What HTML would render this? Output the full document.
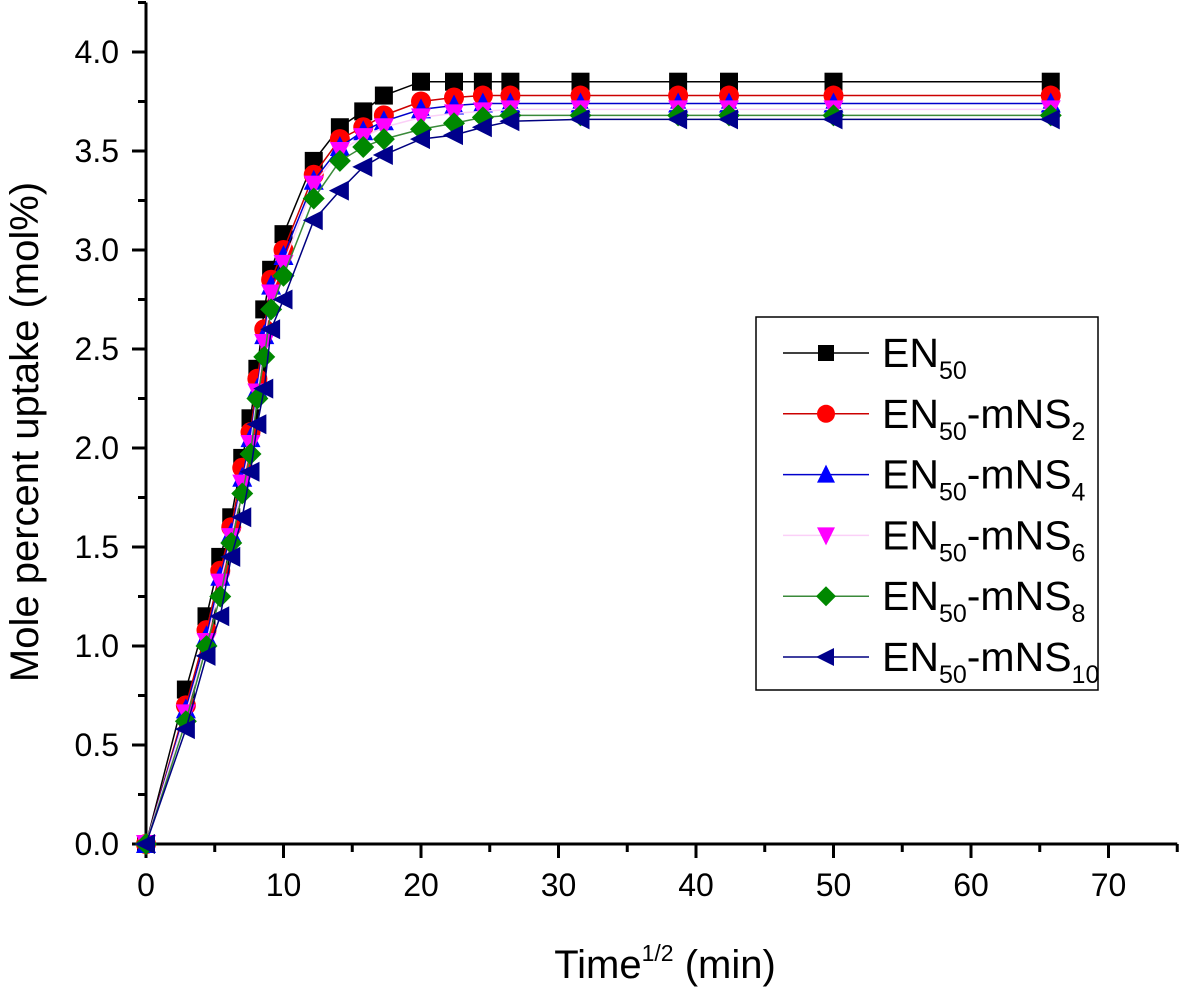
<!DOCTYPE html>
<html><head><meta charset="utf-8"><style>
html,body{margin:0;padding:0;background:#fff;}
svg{display:block;font-family:"Liberation Sans",Arial,sans-serif;}
</style></head><body>
<svg id="chart" width="1181" height="990" viewBox="0 0 1181 990" xmlns="http://www.w3.org/2000/svg">
<g id="axes"></g>
<g id="series"></g>
<g id="legend"></g>
<text transform="translate(38,432) rotate(-90)" text-anchor="middle" font-size="40">Mole percent uptake (mol%)</text>
<text x="665" y="978" text-anchor="middle" font-size="40">Time<tspan font-size="23" dy="-17">1/2</tspan><tspan dy="17"> (min)</tspan></text>
</svg>
<script>
const times=[0,2.9,4.4,5.4,6.2,7.0,7.6,8.1,8.6,9.1,10,12.2,14.1,15.8,17.3,20,22.4,24.5,26.5,31.6,38.7,42.4,50,65.8];
const en50=[0,0.78,1.15,1.45,1.65,1.95,2.15,2.4,2.7,2.9,3.08,3.45,3.62,3.70,3.78,3.85,3.85,3.85,3.85,3.85,3.85,3.85,3.85,3.85];
const mns2=[0,0.70,1.08,1.38,1.60,1.90,2.08,2.35,2.6,2.85,3.0,3.38,3.56,3.62,3.68,3.75,3.77,3.78,3.78,3.78,3.78,3.78,3.78,3.78];
const mns4=[0,0.68,1.05,1.35,1.57,1.85,2.05,2.3,2.57,2.82,2.97,3.35,3.52,3.60,3.65,3.71,3.73,3.74,3.74,3.74,3.74,3.74,3.74,3.74];
const mns6=[0,0.66,1.02,1.32,1.55,1.82,2.02,2.28,2.53,2.78,2.93,3.33,3.50,3.57,3.62,3.67,3.69,3.70,3.71,3.71,3.71,3.71,3.71,3.71];
const mns8=[0,0.62,1.0,1.25,1.52,1.77,1.97,2.25,2.46,2.7,2.87,3.26,3.45,3.52,3.56,3.61,3.64,3.67,3.68,3.68,3.68,3.68,3.68,3.68];
const mns10=[0,0.58,0.95,1.15,1.45,1.65,1.88,2.12,2.3,2.6,2.75,3.15,3.30,3.42,3.48,3.56,3.58,3.62,3.65,3.66,3.66,3.66,3.66,3.66];
const seriesNames=["EN50","EN50-mNS2","EN50-mNS4","EN50-mNS6","EN50-mNS8","EN50-mNS10"];
const seriesSubs=["","2","4","6","8","10"];
const xTicks=[0,10,20,30,40,50,60,70];
const yTicks=[0,0.5,1.0,1.5,2.0,2.5,3.0,3.5,4.0];

const NS="http://www.w3.org/2000/svg";
const X0=146,XS=13.75,Y0=844,YS=198;
const xs=v=>X0+v*XS, ys=v=>Y0-v*YS;
function mk(tag,attrs,parent){const e=document.createElementNS(NS,tag);for(const k in attrs)e.setAttribute(k,attrs[k]);parent.appendChild(e);return e;}
const axes=document.getElementById('axes');
let l=mk('line',{x1:X0,y1:ys(4.25),x2:X0,y2:Y0,stroke:'#000','stroke-width':3},axes);


l=mk('line',{x1:X0,y1:Y0,x2:xs(75),y2:Y0,stroke:'#000','stroke-width':3},axes);


for(let v=0;v<=4.25;v+=0.25){const maj=Math.abs(v*2-Math.round(v*2))<1e-6;
 const t=mk('line',{x1:X0-(maj?14:8),y1:ys(v),x2:X0,y2:ys(v),stroke:'#000','stroke-width':3},axes);
 
 }
yTicks.forEach(v=>{const t=mk('text',{x:X0-27,y:ys(v)+11,'text-anchor':'end','font-size':32},axes);t.textContent=v.toFixed(1);
 
 });
for(let v=0;v<=75;v+=5){const maj=v%10===0;
 const t=mk('line',{x1:xs(v),y1:Y0,x2:xs(v),y2:Y0+(maj?14:8),stroke:'#000','stroke-width':3},axes);
 
 }
xTicks.forEach(v=>{const t=mk('text',{x:xs(v),y:Y0+52,'text-anchor':'middle','font-size':32},axes);t.textContent=v;
 
 });

const data=[en50,mns2,mns4,mns6,mns8,mns10];
const colors=['#000','#f00','#00f','#f0f','#080','#00008b'];
const lineColors=['#000','#c00','#00c','#fbd0f8','#3a8a3a','#000080'];
const shapes=['square','circle','up','down','diamond','left'];
function marker(shape,cx,cy,c,g,s){
 s=s||9;let e;
 if(shape==='square')e=mk('rect',{x:cx-s,y:cy-s,width:2*s,height:2*s,fill:c},g);
 else if(shape==='circle')e=mk('circle',{cx:cx,cy:cy,r:s+1,fill:c},g);
 else{let p;
  if(shape==='up')p=[[cx,cy-s-2],[cx+s+1,cy+s],[cx-s-1,cy+s]];
  else if(shape==='down')p=[[cx-s-1,cy-s],[cx+s+1,cy-s],[cx,cy+s+2]];
  else if(shape==='diamond')p=[[cx,cy-s-2],[cx+s+2,cy],[cx,cy+s+2],[cx-s-2,cy]];
  else p=[[cx-s-2,cy],[cx+s,cy-s-1],[cx+s,cy+s+1]];
  e=mk('polygon',{points:p.map(q=>q.join(',')).join(' '),fill:c},g);}
 return e;}
const sg=document.getElementById('series');
data.forEach((arr,i)=>{
 const g=mk('g',{},sg);
 
 
 const pl=mk('polyline',{points:arr.map((v,j)=>xs(times[j])+','+ys(v)).join(' '),fill:'none',stroke:lineColors[i],'stroke-width':1.5},g);
 
 
 arr.forEach((v,j)=>{const m=marker(shapes[i],xs(times[j]),ys(v),colors[i],g);
  
  });
});
const lg=document.getElementById('legend');
const box=mk('rect',{x:756,y:317,width:342,height:373,fill:'#fff',stroke:'#000','stroke-width':1.5},lg);


seriesNames.forEach((n,i)=>{
 const cy=353+i*60.8;
 const g=mk('g',{},lg);
 
 
 mk('line',{x1:783,y1:cy,x2:869,y2:cy,stroke:lineColors[i],'stroke-width':1.5},g);
 marker(shapes[i],826,cy,colors[i],g,8);
 const t=mk('text',{x:882,y:cy+14,'font-size':41},g);
 t.appendChild(document.createTextNode('EN'));
 const s1=mk('tspan',{'font-size':25,dy:12},t);s1.textContent='50';
 if(seriesSubs[i]){const s2=mk('tspan',{dy:-12},t);s2.textContent='-mNS';
  const s3=mk('tspan',{'font-size':25,dy:12},t);s3.textContent=seriesSubs[i];}
});
</script>
</body></html>
